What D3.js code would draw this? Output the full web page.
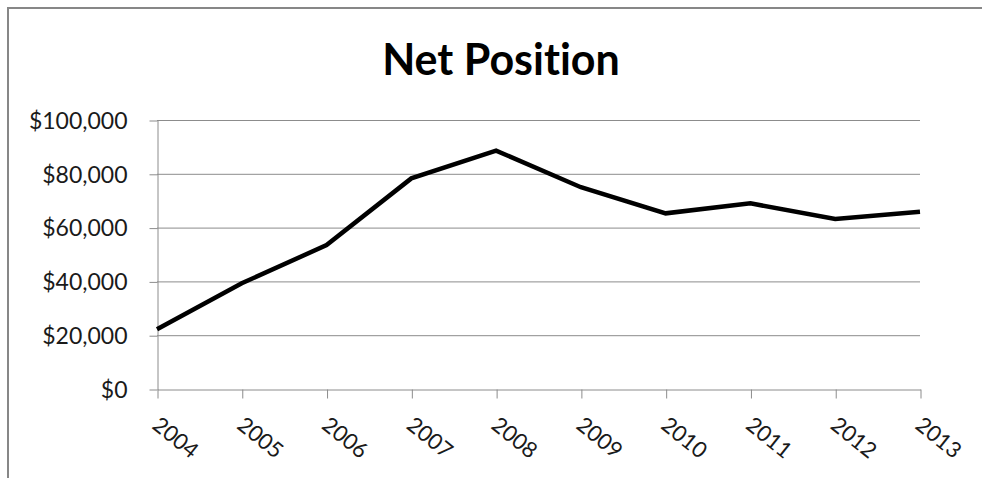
<!DOCTYPE html>
<html>
<head>
<meta charset="utf-8">
<script src="https://cdn.jsdelivr.net/npm/d3@7"></script>
<style>
  html, body { margin: 0; padding: 0; background: #fff; }
  svg { display: block; }
  text { font-variant-ligatures: none; font-feature-settings: "liga" 0, "clig" 0; }
</style>
</head>
<body>
<svg id="chart" width="982" height="478"></svg>
<script>
const title = "Net Position";
const years = ["2004","2005","2006","2007","2008","2009","2010","2011","2012","2013"];
const netPosition = [22200, 39300, 53500, 78300, 88600, 75000, 65300, 69000, 63200, 65900];
const yTicks = [0, 20000, 40000, 60000, 80000, 100000];

const svg = d3.select("#chart");
const W = 982, H = 478;
const margin = { left: 157, right: 62, top: 120, bottom: 89 };
const font = "Lato, 'Open Sans', sans-serif";

// outer frame (top and left edges visible)
svg.append("line").attr("x1", 7).attr("x2", W).attr("y1", 8).attr("y2", 8)
  .attr("stroke", "#878787").attr("stroke-width", 2);
svg.append("line").attr("x1", 8).attr("x2", 8).attr("y1", 7).attr("y2", H)
  .attr("stroke", "#878787").attr("stroke-width", 2);

const x = d3.scalePoint().domain(years).range([margin.left, W - margin.right]);
const y = d3.scaleLinear().domain([0, 100000]).range([H - margin.bottom, margin.top]);

// gridlines
svg.append("g").selectAll("line").data(yTicks.filter(d => d > 0)).join("line")
  .attr("x1", margin.left).attr("x2", W - margin.right)
  .attr("y1", d => y(d) + 0.5).attr("y2", d => y(d) + 0.5)
  .attr("stroke", "#8c8c8c").attr("stroke-width", 1);

// y axis
const fmt = d => "$" + d3.format(",")(d);
const yAxis = svg.append("g").attr("transform", `translate(${margin.left + 0.5},0.5)`)
  .call(d3.axisLeft(y).tickValues(yTicks).tickFormat(fmt).tickSizeInner(8).tickSizeOuter(0).tickPadding(22));
yAxis.select(".domain").attr("stroke", "#8c8c8c");
yAxis.selectAll(".tick line").attr("stroke", "#8c8c8c");
yAxis.selectAll("text").attr("font-family", font)
  .attr("font-size", 23).attr("fill", "#1a1a1a").attr("dy", "0.34em");

// x axis
const xAxis = svg.append("g").attr("transform", `translate(0.5,${H - margin.bottom + 0.5})`)
  .call(d3.axisBottom(x).tickSizeInner(9).tickSizeOuter(0));
xAxis.select(".domain").attr("stroke", "#8c8c8c");
xAxis.selectAll(".tick line").attr("stroke", "#8c8c8c");
xAxis.selectAll("text")
  .attr("font-family", font)
  .attr("font-size", 22).attr("fill", "#1a1a1a")
  .attr("text-anchor", "start")
  .attr("dy", null).attr("y", 0)
  .attr("transform", "translate(-7,38) rotate(39)");

// line
const line = d3.line().x((d, i) => x(years[i])).y(d => y(d));
svg.append("path").datum(netPosition)
  .attr("d", line).attr("fill", "none")
  .attr("stroke", "#000").attr("stroke-width", 4.5)
  .attr("stroke-linejoin", "miter");

// title
svg.append("text").attr("x", 501).attr("y", 75)
  .attr("text-anchor", "middle")
  .attr("font-family", font)
  .attr("font-weight", "bold").attr("font-size", 43).attr("fill", "#000")
  .text(title);
</script>
</body>
</html>
